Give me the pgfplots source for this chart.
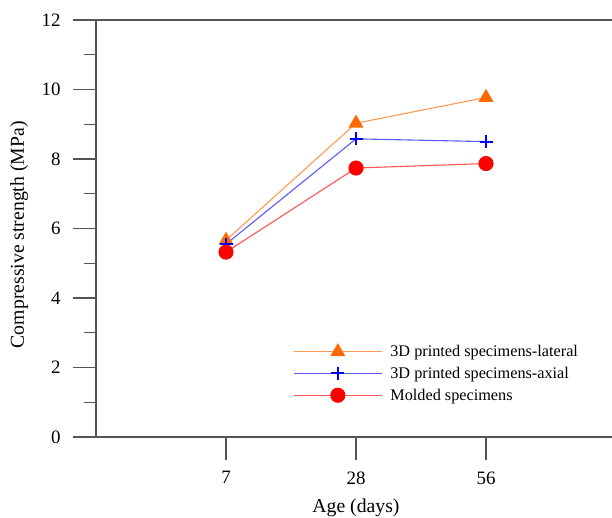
\documentclass[border=0pt]{standalone}
\usepackage{fontspec}
\setmainfont{Liberation Serif}
\usepackage{pgfplots}
\pgfplotsset{compat=1.18}
\definecolor{axgray}{HTML}{555555}
\definecolor{latline}{HTML}{FF9A50}
\definecolor{latmark}{HTML}{FF6A00}
\definecolor{axline}{HTML}{5A5AFF}
\definecolor{axmark}{HTML}{0000FF}
\definecolor{molline}{HTML}{FF5555}
\definecolor{molmark}{HTML}{FF0000}
\begin{document}
\begin{tikzpicture}
\begin{axis}[
  name=ax,
  scale only axis, width=520bp, height=417bp,
  xmin=-1, xmax=3, ymin=0, ymax=12,
  xtick={0,1,2}, xticklabels={7,28,56},
  ytick={0,2,...,12}, minor ytick={1,3,...,11},
  tick pos=left, tick align=outside,
  major tick length=23bp, minor tick length=12bp,
  axis line style={draw=axgray, line width=1.2bp},
  tick style={draw=axgray, line width=1.2bp},
  /pgf/number format/assume math mode=true,
  ticklabel style={font=\fontsize{19}{19}\selectfont},
  yticklabel style={xshift=-9bp},
  xticklabel style={yshift=-8bp},
  xlabel={Age (days)}, ylabel={Compressive strength (MPa)},
  label style={font=\fontsize{19.8}{19.8}\selectfont},
  xlabel style={at={(axis description cs:0.5,-0.170)}, anchor=center},
  ylabel style={at={(axis description cs:-0.148,0.485)}, anchor=center},
  legend style={draw=none, fill=none, at={(axis description cs:0.379,0.225)}, anchor=north west, inner sep=0pt,
    font=\fontsize{16.3}{16.3}\selectfont, cells={anchor=west}, row sep=5bp,
    /tikz/every odd column/.append style={column sep=6bp}},
  legend image code/.code={\draw[mark repeat=2,mark phase=2,#1] plot coordinates {(0bp,0bp) (44bp,0bp) (88bp,0bp)};},
  clip=false,
]
\addplot[color=latline, line width=1.1bp, mark=triangle*, mark size=7.5bp, mark options={draw=latmark, fill=latmark, solid}]
  coordinates {(0,5.66) (1,9.03) (2,9.77)};
\addlegendentry{3D printed specimens-lateral}
\addplot[color=axline, line width=1.1bp, mark=+, mark size=6.5bp, mark options={draw=axmark, line width=2bp, solid}]
  coordinates {(0,5.55) (1,8.58) (2,8.50)};
\addlegendentry{3D printed specimens-axial}
\addplot[color=molline, line width=1.1bp, mark=*, mark size=7bp, mark options={draw=molmark, fill=molmark, solid}]
  coordinates {(0,5.32) (1,7.74) (2,7.87)};
\addlegendentry{Molded specimens}
\end{axis}
\pgfresetboundingbox
\path[use as bounding box] (ax.south west) ++(-96bp,-81bp) rectangle ++(612bp,518bp);
\end{tikzpicture}
\end{document}
